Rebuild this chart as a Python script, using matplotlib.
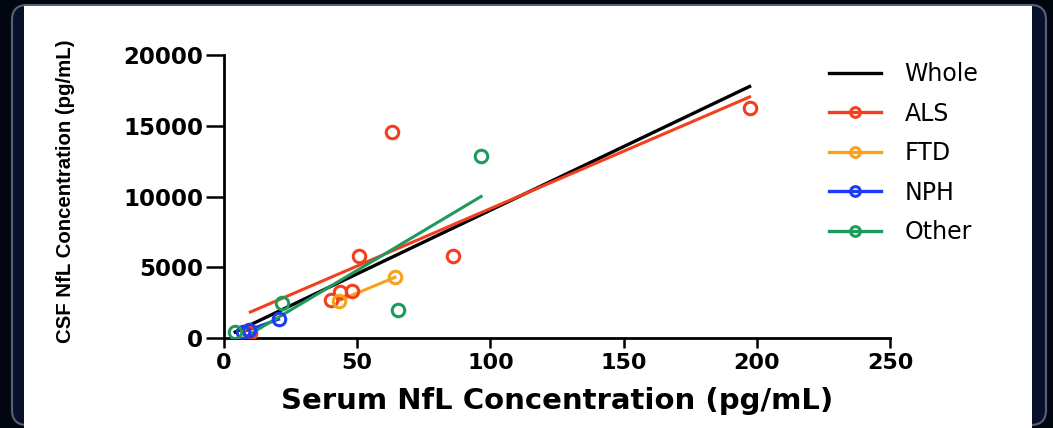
import matplotlib
matplotlib.use("Agg")
import matplotlib.pyplot as plt
import numpy as np
from matplotlib.patches import FancyBboxPatch, Rectangle
from matplotlib.lines import Line2D
from matplotlib.transforms import IdentityTransform

# data (serum NfL, CSF NfL)
als_x = [9.9, 40.0, 43.7, 47.9, 50.6, 63.1, 86.0, 197.3]
als_y = [330, 2690, 3230, 3320, 5800, 14540, 5800, 16230]
ftd_x = [43.1, 64.2]
ftd_y = [2640, 4290]
nph_x = [7.0, 9.5, 20.5]
nph_y = [420, 600, 1320]
other_x = [4.2, 21.7, 65.4, 96.5]
other_y = [450, 2500, 1960, 12850]

groups = ["ALS", "FTD", "NPH", "Other"]
colors = {"ALS": "#f2401f", "FTD": "#f7a21b", "NPH": "#1d3cf0", "Other": "#1f9a5c"}
xticks = [0, 50, 100, 150, 200, 250]
yticks = [0, 5000, 10000, 15000, 20000]

W, H = 1053, 428
fig = plt.figure(figsize=(W / 100, H / 100), dpi=100, facecolor="#02060f")

# card frame + white panel
card = FancyBboxPatch((12, 3), 1034, 420, boxstyle="round,pad=0,rounding_size=15",
                      transform=IdentityTransform(), facecolor="#07112a",
                      edgecolor="#59617a", lw=1.5, zorder=-10)
fig.add_artist(card)
panel = Rectangle((24, 0), 1008, 422, transform=IdentityTransform(),
                  facecolor="white", edgecolor="none", zorder=-9)
fig.add_artist(panel)

ax = fig.add_axes([224 / W, (H - 338) / H, (890 - 224) / W, (338 - 55) / H])
ax.set_facecolor("none")

data = {"ALS": (als_x, als_y), "FTD": (ftd_x, ftd_y),
        "NPH": (nph_x, nph_y), "Other": (other_x, other_y)}

# whole-cohort fit
all_x = np.array(als_x + ftd_x + nph_x + other_x)
all_y = np.array(als_y + ftd_y + nph_y + other_y)
k, b = np.polyfit(all_x, all_y, 1)
xx = np.array([all_x.min(), all_x.max()])
ax.plot(xx, k * xx + b, color="black", lw=2.4, zorder=3)

for g in groups:
    x, y = np.array(data[g][0]), np.array(data[g][1])
    k, b = np.polyfit(x, y, 1)
    xx = np.array([x.min(), x.max()])
    ax.plot(xx, k * xx + b, color=colors[g], lw=2.2, zorder=3)
    ax.plot(x, y, "o", ms=9, mfc="none", mec=colors[g], mew=2.2, zorder=4)

ax.set_xlim(0, 250)
ax.set_ylim(0, 20000)
ax.set_xticks(xticks)
ax.set_yticks(yticks)
for s in ["top", "right"]:
    ax.spines[s].set_visible(False)
for s in ["left", "bottom"]:
    ax.spines[s].set_linewidth(2.0)
ax.tick_params(axis="x", length=7, width=1.8, pad=4, labelsize=16)
ax.tick_params(axis="y", length=13, width=1.8, pad=2, labelsize=16.5)
for lab in ax.get_xticklabels() + ax.get_yticklabels():
    lab.set_fontweight("bold")
    lab.set_family("DejaVu Sans")

ax.set_xlabel("Serum NfL Concentration (pg/mL)", fontsize=21, fontweight="bold",
              family="DejaVu Sans", labelpad=10)
ax.set_ylabel("CSF NfL Concentration (pg/mL)", fontsize=14.7, fontweight="bold",
              family="Liberation Sans")
ax.yaxis.set_label_coords(-(224 - 75) / (890 - 224), 0.52)

handles = [Line2D([0], [0], color="black", lw=2.4, label="Whole")]
for g in groups:
    handles.append(Line2D([0], [0], color=colors[g], lw=2.4, marker="o", ms=7,
                          mfc="none", mec=colors[g], mew=2.2, label=g))
fig.legend(handles=handles, loc="upper left", bbox_to_anchor=(829 / W, (H - 62) / H),
           frameon=False, fontsize=17, handlelength=2.2, handletextpad=1.0,
           labelspacing=0.66, borderpad=0, borderaxespad=0)

fig.savefig("out.png", dpi=100, facecolor=fig.get_facecolor())
